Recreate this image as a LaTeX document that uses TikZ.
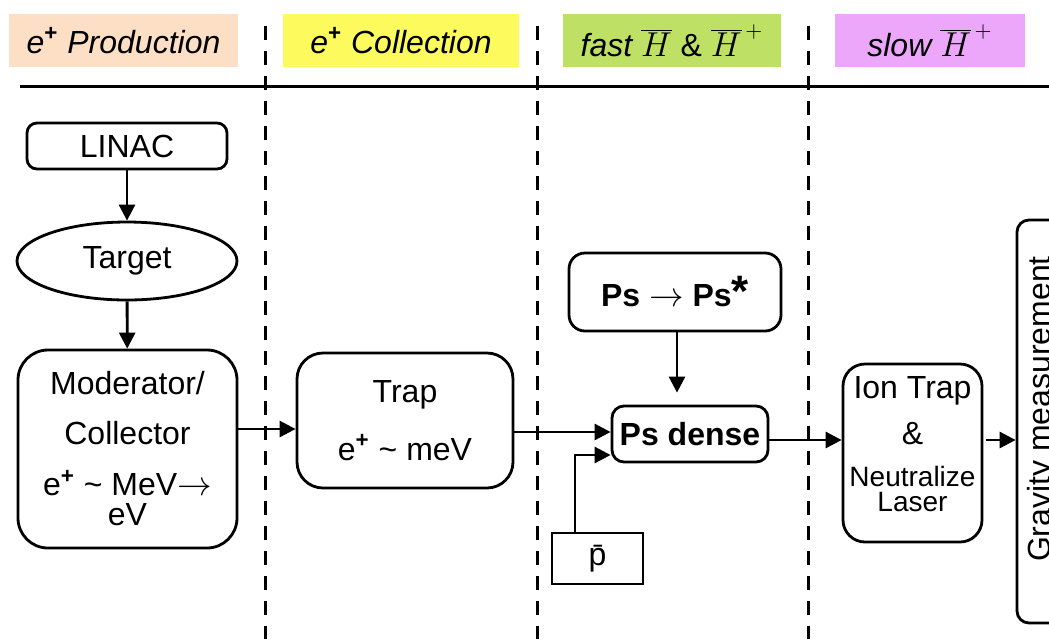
\documentclass[tikz,border=0pt]{standalone}
\usepackage{fontspec}
\setmainfont{Liberation Sans}
\usetikzlibrary{arrows.meta,shapes.geometric}
\definecolor{prodcol}{RGB}{252,223,196}
\definecolor{collcol}{RGB}{252,250,92}
\definecolor{fastcol}{RGB}{190,224,100}
\definecolor{slowcol}{RGB}{236,166,250}
\tikzset{
	hdr/.style={inner sep=0pt,minimum height=26.5pt,font=\fontsize{16}{19}\selectfont\itshape},
	rbox/.style={draw,line width=1.4pt,align=center,inner sep=2pt},
	arr/.style={line width=1.4pt,-{Triangle[length=8pt,width=8pt]}},
	divider/.style={line width=1.5pt,dash pattern=on 7pt off 5.5pt},
}
\newcommand{\eplus}{e\textsuperscript{\textbf{\textup{+}}}}
\begin{document}
\begin{tikzpicture}[x=0.5pt,y=-0.5pt,font=\fontsize{16}{19}\selectfont]
		\useasboundingbox (0,0) rectangle (1049,639);
		\clip (0,0) rectangle (1049,639);
		\node[hdr,fill=prodcol,minimum width=114.5pt] (prod) at (123.5,40.5) {\eplus{} Production};
		\node[hdr,fill=collcol,minimum width=118pt] (coll) at (401,40.5) {\eplus{} Collection};
		\node[hdr,fill=fastcol,minimum width=109pt] (fast) at (672,40.5) {fast $\overline{H}$ \textup{\&} $\overline{H}^{\,+}$};
		\node[hdr,fill=slowcol,minimum width=95pt] (slow) at (930,40.5) {slow $\overline{H}^{\,+}$};
		\draw[line width=1.5pt] (20,86) -- (1049,86);
		\foreach \x in {265,537,808}{
				\draw[divider] (\x,26) -- (\x,639);
			}
		\node[rbox,rounded corners=5pt,minimum width=100pt,minimum height=23pt] (linac) at (127,146) {LINAC};
		\node[draw,ellipse,line width=1.4pt,minimum width=110pt,minimum height=39pt,inner sep=0pt] (target) at (127,261) {Target};
		\node[rbox,rounded corners=15pt,minimum width=109.5pt,minimum height=99pt,font=\fontsize{16}{15}\selectfont] (mod) at (127.5,449) {Moderator/\\[10pt]Collector\\[10.5pt]\eplus{} \textasciitilde{} MeV$\rightarrow$\\eV};
		\node[rbox,rounded corners=13pt,minimum width=108pt,minimum height=67.5pt] (trap) at (405,420.5) {Trap\\[10pt]\eplus{} \textasciitilde{} meV};
		\node[rbox,rounded corners=8pt,minimum width=106pt,minimum height=39pt,font=\fontsize{16}{19}\selectfont\bfseries] (psx) at (675,292) {Ps $\rightarrow$ Ps{\fontsize{22}{19}\selectfont*}};
		\node[rbox,rounded corners=6pt,minimum width=78pt,minimum height=28pt,font=\fontsize{16}{19}\selectfont\bfseries] (psd) at (690,434) {Ps dense};
		\node[draw,line width=1.4pt,minimum width=45.5pt,minimum height=25.5pt,inner sep=0pt] (pbar) at (597.5,558.5) {\=p};
		\node[rbox,rounded corners=11pt,minimum width=69.5pt,minimum height=89pt,text depth=9pt] (ion) at (912.5,453) {Ion Trap\\[4pt]\&\\[2pt]\fontsize{14}{19}\selectfont Neutralize\\[-6.5pt]\fontsize{14}{19}\selectfont Laser};
		\node[rbox,rounded corners=6pt,minimum width=40pt,minimum height=201.5pt] (grav) at (1057,421.5) {};
		\node[rotate=90,anchor=north,inner sep=0pt] (gravtxt) at (1027,409) {Gravity measurement};
		\draw[arr] (linac) -- (target);
		\draw[arr] (target) -- (mod);
		\draw[arr] (mod.east |- 0,429) -- (trap.west |- 0,429);
		\draw[arr] (trap.east |- 0,432) -- (psd.west |- 0,432);
		\draw[arr,shorten >=6pt] (psx.south -| 677,0) -- (psd.north -| 677,0);
		\draw[arr] (pbar.north -| 575,0) |- (psd.west |- 0,455);
		\draw[arr] (psd.east |- 0,440) -- (ion.west |- 0,440);
		\draw[arr,shorten <=1.5pt] (ion.east |- 0,440) -- (grav.west |- 0,440);
	\end{tikzpicture}
\end{document}
